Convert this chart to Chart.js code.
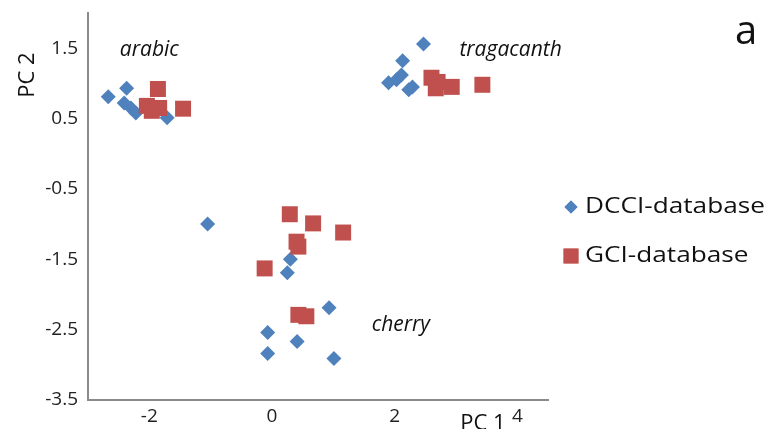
<!DOCTYPE html>
<html lang="en">
<head>
    <meta charset="UTF-8" />
    <title>PCA scores</title>
    <script src="https://cdn.jsdelivr.net/npm/chart.js@4.4.1/dist/chart.umd.min.js"></script>
    <style>
      html, body { margin: 0; padding: 0; background: #fff; }
      #wrap { width: 771px; height: 429px; }
    </style>
</head>
<body>
    <div id="wrap"><canvas id="chart" width="771" height="429"></canvas></div>

    <script>
      // PC scores, DCCI-database
      const dcciX = [-2.67, -2.37, -2.41, -2.30, -2.22, -1.71,
                     2.47, 2.13, 1.90, 2.03, 2.11, 2.23, 2.29,
                     -1.05, 0.30, 0.25, 0.93, -0.07, 0.41, -0.07, 1.01];
      const dcciY = [0.81, 0.93, 0.72, 0.65, 0.58, 0.51,
                     1.56, 1.32, 1.01, 1.05, 1.12, 0.91, 0.95,
                     -1.00, -1.50, -1.69, -2.19, -2.54, -2.67, -2.84, -2.91];

      // PC scores, GCI-database
      const gciX = [-1.86, -2.04, -1.96, -1.84, -1.45,
                    2.60, 2.70, 2.67, 2.93, 3.43,
                    0.29, 0.67, 1.16, 0.40, 0.43, -0.12, 0.43, 0.56];
      const gciY = [0.92, 0.68, 0.61, 0.65, 0.64,
                    1.08, 1.02, 0.93, 0.95, 0.98,
                    -0.86, -0.99, -1.12, -1.25, -1.32, -1.63, -2.29, -2.31];

      const seriesNames = ['DCCI-database', 'GCI-database'];
      const xTicks = [-2, 0, 2, 4];
      const yTicks = [1.5, 0.5, -0.5, -1.5, -2.5, -3.5];

      // group names, placed in data coordinates
      const groupLabels = ['arabic', 'tragacanth', 'cherry'];
      const groupX = [-2.0, 3.89, 2.10];
      const groupY = [1.47, 1.47, -2.43];

      const BLUE = '#4F81BD';
      const RED = '#C0504D';
      const FONT = '"Open Sans", "DejaVu Sans", sans-serif';

      const toPoints = (xs, ys) => xs.map((x, i) => ({ x: x, y: ys[i] }));

      // axis titles, group names, panel letter and the legend
      const extras = {
        id: 'extras',
        afterDraw(chart) {
          const ctx = chart.ctx;
          const xs = chart.scales.x, ys = chart.scales.y;
          ctx.save();
          ctx.fillStyle = '#111';

          ctx.font = 'italic 21px ' + FONT;
          ctx.textAlign = 'center';
          ctx.textBaseline = 'middle';
          groupLabels.forEach((t, i) => {
            ctx.fillText(t, xs.getPixelForValue(groupX[i]), ys.getPixelForValue(groupY[i]));
          });

          ctx.font = '40px ' + FONT;
          ctx.fillText('a', 746, 33);

          ctx.font = '22px ' + FONT;
          ctx.textBaseline = 'alphabetic';
          ctx.fillText('PC 1', 483, 430);

          ctx.save();
          ctx.translate(34, 75);
          ctx.rotate(-Math.PI / 2);
          ctx.fillText('PC 2', 0, 0);
          ctx.restore();

          // legend
          const styles = ['rectRot', 'rect'];
          const colors = [BLUE, RED];
          const radii = [6.5, 10.5];
          const rows = [207, 256];
          seriesNames.forEach((name, i) => {
            ctx.fillStyle = colors[i];
            Chart.helpers.drawPoint(ctx, { pointStyle: styles[i], radius: radii[i], borderWidth: 0 }, 571, rows[i]);
            ctx.fill();
            ctx.save();
            ctx.translate(585, rows[i]);
            ctx.scale(1.19, 1);
            ctx.fillStyle = '#111';
            ctx.font = '22px ' + FONT;
            ctx.textAlign = 'left';
            ctx.textBaseline = 'middle';
            ctx.fillText(name, 0, 0);
            ctx.restore();
          });
          ctx.restore();
        }
      };

      const ctx = document.getElementById('chart');
      const myChart = new Chart(ctx, {
        type: 'scatter',
        data: {
          datasets: [{
            label: seriesNames[0],
            data: toPoints(dcciX, dcciY),
            pointStyle: 'rectRot',
            pointRadius: 7.5,
            pointHoverRadius: 7.5,
            backgroundColor: BLUE,
            borderWidth: 0,
            order: 1
          }, {
            label: seriesNames[1],
            data: toPoints(gciX, gciY),
            pointStyle: 'rect',
            pointRadius: 11.3,
            pointHoverRadius: 11.3,
            backgroundColor: RED,
            borderWidth: 0,
            order: 0
          }]
        },
        options: {
          responsive: false,
          animation: false,
          events: [],
          layout: { padding: { left: 0, top: 13, right: 223, bottom: 0 } },
          plugins: {
            legend: { display: false },
            tooltip: { enabled: false }
          },
          scales: {
            x: {
              type: 'linear',
              min: -3,
              max: 4.5,
              afterBuildTicks: s => { s.ticks = xTicks.map(v => ({ value: v })); },
              afterFit: s => { s.height = 29; s.paddingLeft = 0; s.paddingRight = 0; },
              grid: { display: false, drawTicks: false },
              border: { display: true, color: '#8a8a8a', width: 2 },
              ticks: { padding: 5, color: '#222', font: { family: FONT, size: 19 } }
            },
            y: {
              type: 'linear',
              min: -3.5,
              max: 2,
              afterBuildTicks: s => { s.ticks = yTicks.map(v => ({ value: v })); },
              afterFit: s => { s.width = 88; s.paddingTop = 0; s.paddingBottom = 0; },
              grid: { display: false, drawTicks: false },
              border: { display: true, color: '#8a8a8a', width: 2 },
              ticks: {
                padding: 10,
                color: '#222',
                font: { family: FONT, size: 19 },
                callback: v => v.toFixed(1)
              }
            }
          }
        },
        plugins: [extras]
      });
    </script>
</body>
</html>
